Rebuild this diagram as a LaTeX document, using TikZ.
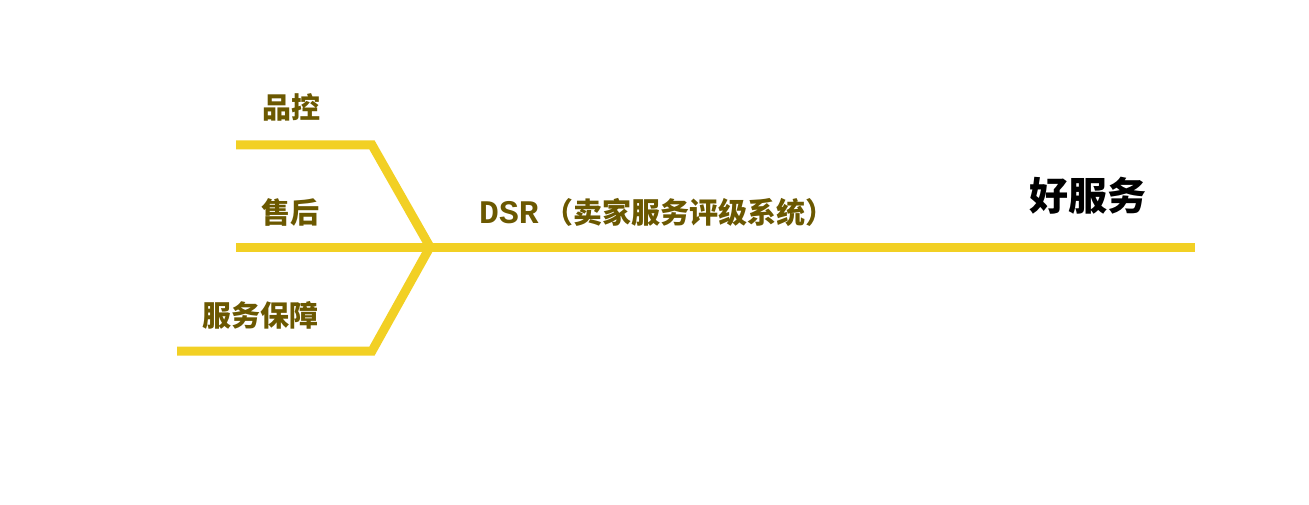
\documentclass[tikz,border=0pt]{standalone}
\usepackage{fontspec}
\newfontfamily\cjk{Noto Sans CJK SC}
\newfontfamily\dsrfont{Liberation Mono}
\usepackage{xcolor}
\definecolor{bone}{HTML}{F2D024}
\definecolor{labtext}{HTML}{6B5800}

\begin{document}
\begin{tikzpicture}[x=1pt,y=-1pt,
	bone/.style={draw=bone, line width=9pt},
	lab/.style={text=labtext, font=\cjk\bfseries\fontsize{29}{32}\selectfont, inner sep=0pt}]
\useasboundingbox (0,0) rectangle (1309,505);
% points of the branches
\coordinate (head) at (430,247);
\coordinate (tail) at (1195,247);
\coordinate (qcstart) at (236,145);
\coordinate (qcbend) at (372,145);
\coordinate (asstart) at (236,247);
\coordinate (sgstart) at (177,351);
\coordinate (sgbend) at (372,351);
% lines
\draw [bone] (qcstart)--(qcbend)--(head);
\draw [bone] (sgstart)--(sgbend)--(head);
\draw [bone] (asstart)--(head);
\draw [bone] (head)--(tail);
% labels
\node[lab] (qc) at (291,107) {品控};
\node[lab] (as) at (290,212) {售后};
\node[lab] (sg) at (260,315) {服务保障};
\node[lab, anchor=west] (dsr) at (479,212) {{\dsrfont\fontsize{33}{36}\selectfont DSR}\hspace{6pt}（卖家服务评级系统）};
\node[inner sep=0pt, font=\cjk\bfseries\fontsize{39}{44}\selectfont] (good) at (1088,196) {好服务};
\end{tikzpicture}
\end{document}
